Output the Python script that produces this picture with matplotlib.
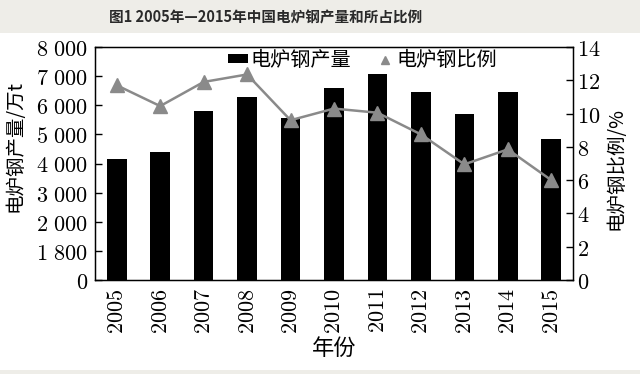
import matplotlib
matplotlib.use("Agg")
import matplotlib.pyplot as plt
from matplotlib.patches import Rectangle
from matplotlib.lines import Line2D

plt.rcParams['font.family'] = ['Noto Sans CJK SC', 'DejaVu Sans']
plt.rcParams['mathtext.fontset'] = 'cm'

years = ['2005', '2006', '2007', '2008', '2009', '2010', '2011', '2012', '2013', '2014', '2015']
production = [4150, 4380, 5800, 6300, 5560, 6600, 7060, 6440, 5700, 6460, 4850]
ratio = [11.7, 10.45, 11.9, 12.35, 9.6, 10.3, 10.05, 8.75, 6.95, 7.85, 6.0]
left_ticks = [0, 1000, 2000, 3000, 4000, 5000, 6000, 7000, 8000]
left_labels = ['0', '1 800', '2 000', '3 000', '4 000', '5 000', '6 000', '7 000', '8 000']
right_ticks = [0, 2, 4, 6, 8, 10, 12, 14]

W, H = 640, 374
fig = plt.figure(figsize=(6.4, 3.74), dpi=100)
fig.patch.set_facecolor('white')
band = '#eeede8'
fig.patches.append(Rectangle((0, (H - 33) / H), 1, 33 / H, transform=fig.transFigure,
                             facecolor=band, edgecolor='none', zorder=0))
fig.patches.append(Rectangle((0, 0), 1, 4 / H, transform=fig.transFigure,
                             facecolor=band, edgecolor='none', zorder=0))
fig.text(266 / W, 1 - 17 / H, '图1 2005年—2015年中国电炉钢产量和所占比例',
         ha='center', va='center', fontsize=10.5, color='#2a2a2a', fontweight='bold')

ax = fig.add_axes([95 / W, (H - 280) / H, (573 - 95) / W, (280 - 47) / H])
x = list(range(len(years)))
ax.bar(x, production, width=0.45, color='black', zorder=2)
ax.set_xlim(-0.5, len(years) - 0.5)
ax.set_ylim(0, 8000)
ax.set_yticks(left_ticks)
ax.set_yticklabels(['$' + s.replace(' ', r'\ ') + '$' for s in left_labels], fontsize=16)
ax.set_xticks(x)
ax.set_xticklabels(['$' + y + '$' for y in years], rotation=90, fontsize=16)
ax.tick_params(axis='x', length=0, pad=6)
ax.tick_params(axis='y', direction='in', length=5, width=1, pad=5)
ax.set_ylabel('电炉钢产量/万t', fontsize=14)
ax.yaxis.set_label_coords(-0.146, 0.575)
ax.set_xlabel('年份', fontsize=16, labelpad=2)
for s in ax.spines.values():
    s.set_linewidth(1.0)

ax2 = ax.twinx()
ax2.plot(x, ratio, color='#8a8a8a', lw=1.8, marker='^', markersize=9.5,
         markerfacecolor='#8a8a8a', markeredgecolor='#8a8a8a', zorder=3)
ax2.set_ylim(0, 14)
ax2.set_yticks(right_ticks)
ax2.set_yticklabels(['$' + str(t) + '$' for t in right_ticks], fontsize=16)
ax2.tick_params(axis='y', direction='in', length=5, width=1, pad=3)
ax2.set_ylabel('电炉钢比例/%', fontsize=14)
ax2.yaxis.set_label_coords(1.067, 0.48)

handles = [Rectangle((0, 0), 1, 1, facecolor='black', edgecolor='none'),
           Line2D([], [], color='#8a8a8a', marker='^', linestyle='none', markersize=6)]
ax2.legend(handles, ['电炉钢产量', '电炉钢比例'], loc='center', bbox_to_anchor=(0.56, 0.944),
           ncol=2, frameon=False, fontsize=14.5, handlelength=1.0, handleheight=0.3,
           handletextpad=0.1, columnspacing=1.2, borderpad=0)

fig.savefig('out.png', dpi=100)
